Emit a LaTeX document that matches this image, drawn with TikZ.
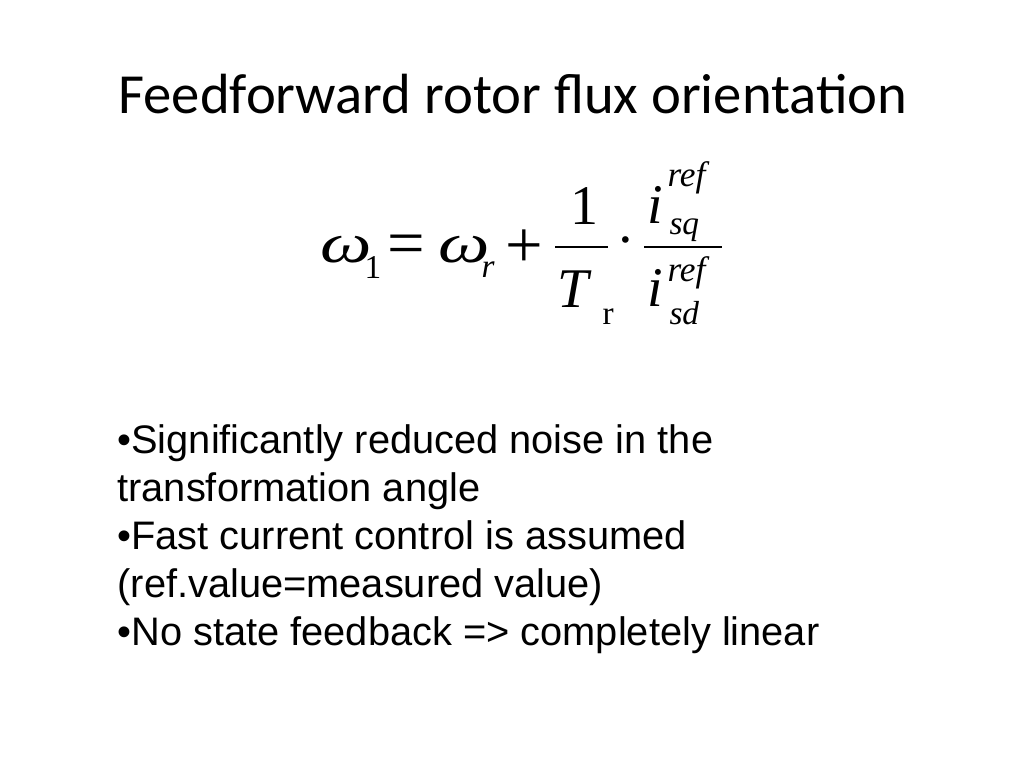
\documentclass[tikz,border=0pt]{standalone}
\usepackage{fontspec}
\usepackage{graphicx}
\setmainfont{Liberation Serif}
\newfontfamily\titlefont{Carlito}
\newfontfamily\bodyfont{Liberation Sans}

\newcommand{\fbig}{\fontsize{42}{42}\selectfont}
\newcommand{\fop}{\fontsize{50}{50}\selectfont}
\newcommand{\fsub}{\fontsize{25}{25}\selectfont}
\newcommand{\fsup}{\fontsize{26.5}{26.5}\selectfont}
\newcommand{\wideomega}{\scalebox{1.3}[1]{\itshape ω}}

\tikzset{every picture/.style={line width=0.75pt}}
\tikzset{
  sym/.style={inner sep=0pt, font=\fbig},
  op/.style={inner sep=0pt, font=\fop, anchor=center},
  scr/.style={inner sep=0pt, font=\fsub},
  sup/.style={inner sep=0pt, font=\fsup},
  bar/.style={line width=1.7pt}
}

\begin{document}
\begin{tikzpicture}[x=0.75pt, y=0.75pt, yscale=-1,xscale=1]

    \useasboundingbox (0,0) rectangle (1024,768);

    % title
    \draw (118,113) node (title) [anchor=base west][inner sep=0pt] {\titlefont\fontsize{42.5}{42.5}\selectfont Feedforward rotor flux orientation};

    % formula
    \draw (320,262) node (wone)  [sym, anchor=base west] {\wideomega};
    \draw (364,278) node (wonei) [scr, anchor=base west] {1};
    \draw (406,250) node (eq)    [op]                    {=};
    \draw (438,262) node (wr)    [sym, anchor=base west] {\wideomega};
    \draw (481,277) node (wri)   [scr, anchor=base west] {\itshape r};
    \draw (524,249) node (plus)  [op]                    {+};

    \draw [bar] (555,247) -- (608,247);
    \draw (584,224) node (one)   [sym, anchor=base]      {1};
    \draw (557,307) node (tr)    [sym, anchor=base west] {\itshape T};
    \draw (602,324) node (tri)   [scr, anchor=base west] {r};

    \draw (626,248) node (dot)   [sym, anchor=center]    {·};

    \draw [bar] (644,247) -- (722,247);
    \draw (647,223) node (isq)   [sym, anchor=base west] {\itshape i};
    \draw (667,186) node (isqr)  [sup, anchor=base west] {\itshape ref};
    \draw (669,234) node (isqi)  [scr, anchor=base west] {\itshape sq};
    \draw (647,306) node (isd)   [sym, anchor=base west] {\itshape i};
    \draw (667,281) node (isdr)  [sup, anchor=base west] {\itshape ref};
    \draw (669,324) node (isdi)  [scr, anchor=base west] {\itshape sd};

    % bullets (base = last line)
    \draw (117,645) node (notes) [anchor=base west, align=left, font=\bodyfont\fontsize{29.85}{36}\selectfont][inner sep=0pt] {%
        •Significantly reduced noise in the\\
        transformation angle\\
        •Fast current control is assumed\\
        (ref.value=measured value)\\
        •No state feedback => completely linear};

\end{tikzpicture}
\end{document}
